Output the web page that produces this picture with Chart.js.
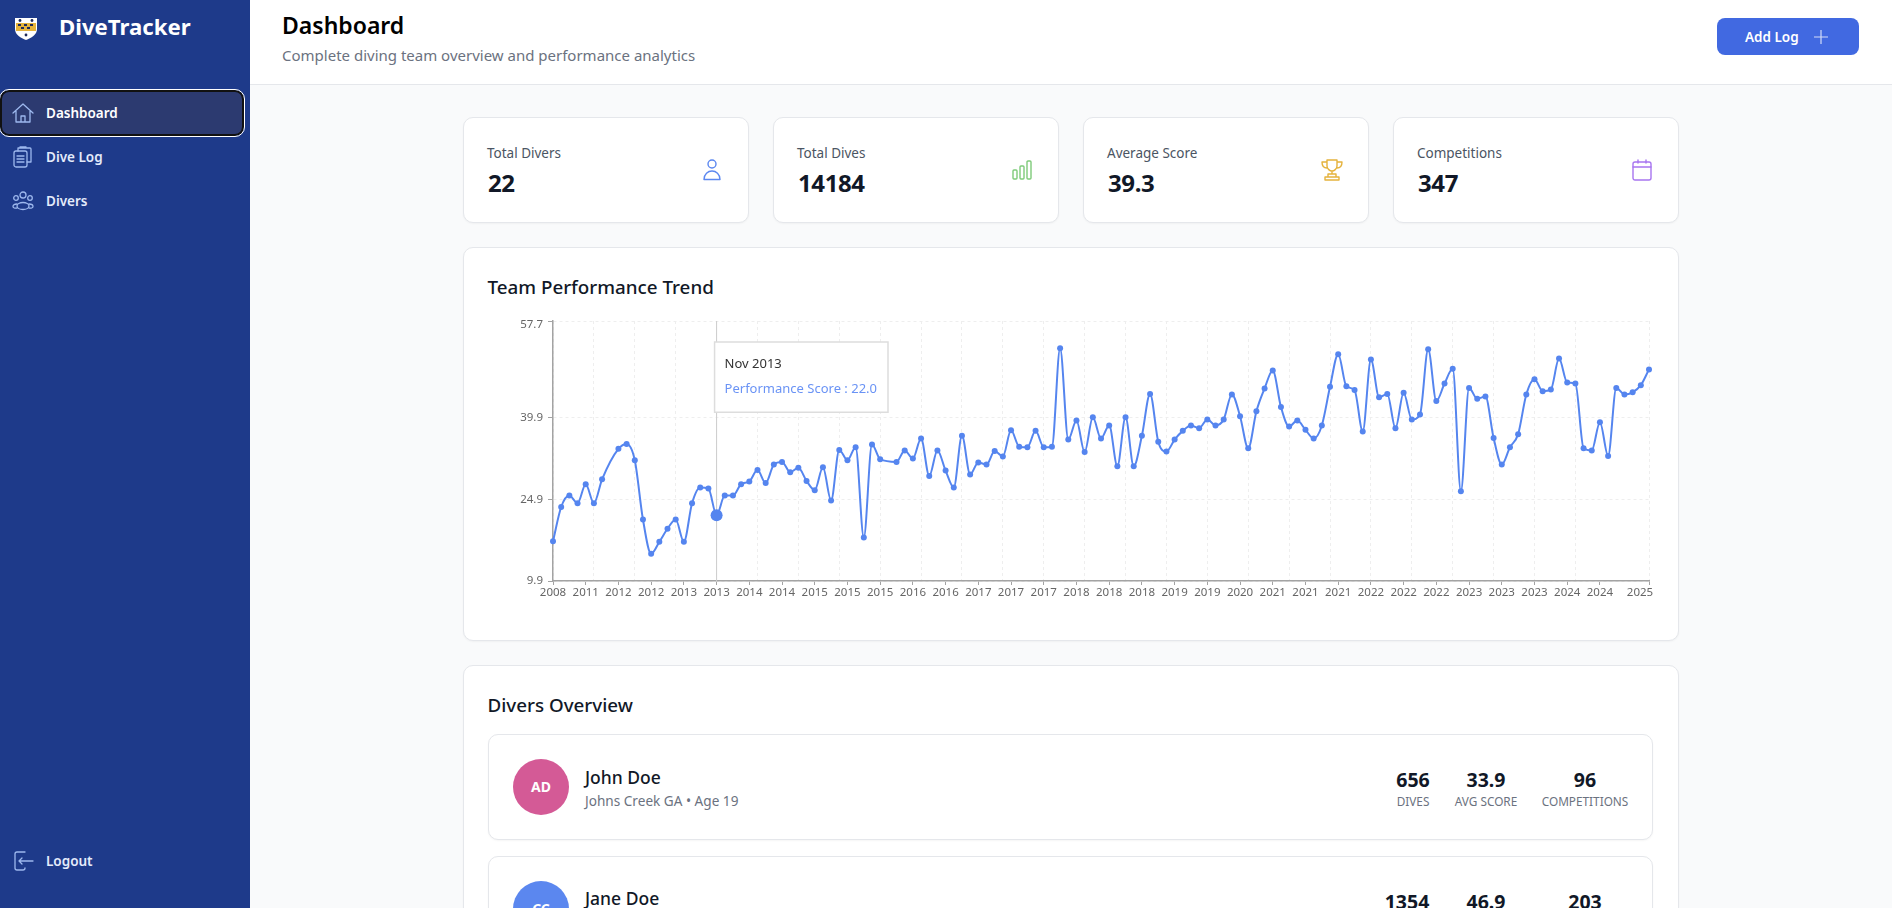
<!DOCTYPE html>
<html>
<head>
<meta charset="utf-8">
<title>DiveTracker</title>
<script src="https://cdn.jsdelivr.net/npm/chart.js@4"></script>
<style>
  html, body { margin: 0; padding: 0; width: 1892px; height: 908px; overflow: hidden; background: #f9fafb; font-family: "Noto Sans", sans-serif; }
  .t { position: absolute; white-space: nowrap; line-height: 20px; }
  .c { transform: translateX(-50%); }
  .box { position: absolute; box-sizing: border-box; background: #fff; border: 1px solid #e5e7eb; border-radius: 10px; box-shadow: 0 1px 2px rgba(0,0,0,.04); }
  svg { position: absolute; fill: none; stroke-linecap: round; stroke-linejoin: round; }
  #sidebar { position: absolute; left: 0; top: 0; width: 250px; height: 908px; background: #1e3a8a; }
  #header { position: absolute; left: 250px; top: 0; width: 1642px; height: 85px; box-sizing: border-box; background: #fff; border-bottom: 1px solid #e5e7eb; }
  .nav { font-size: 13.5px; font-weight: 600; color: #e4ebfb; left: 46px; }
  .lbl { font-size: 13.5px; color: #4b5563; }
  .val { font-size: 24px; font-weight: 700; color: #111827; letter-spacing: -.4px; }
  .name { font-size: 17.5px; font-weight: 500; color: #111827; }
  .sub { font-size: 13.6px; color: #6b7280; }
  .num { font-size: 19.5px; font-weight: 700; color: #111827; }
  .cap { font-size: 11.8px; color: #6b7280; }
  .head { font-size: 18.8px; font-weight: 500; color: #111827; }
  #chartWrap { position: absolute; left: 488px; top: 310px; width: 1190px; height: 310px; }
</style>
</head>
<body>
<div id="sidebar">
  <svg style="left:14px;top:13px" width="24" height="28" viewBox="0 0 24 28">
    <path d="M1 5 H23 V16 C23 22 17 25 12 27 C7 25 1 22 1 16 Z" fill="#fff"/>
    <rect x="2" y="10" width="20" height="8" fill="#e6b33a"/>
    <path d="M4 11h3v2H4zM10 11h3v2h-3zM16 11h3v2h-3zM7 14h3v2H7zM13 14h3v2h-3z" fill="#1f2a5a"/>
    <circle cx="6" cy="7.5" r="1.4" fill="#1f2a5a"/><circle cx="18" cy="7.5" r="1.4" fill="#1f2a5a"/><circle cx="12" cy="22" r="1.4" fill="#1f2a5a"/>
  </svg>
  <div class="t" style="left:59px;top:17px;font-size:22.2px;font-weight:700;color:#fff">DiveTracker</div>
  <div style="position:absolute;left:0;top:90px;width:244px;height:46px;box-sizing:border-box;background:#2c3a70;border:2px solid #111;border-radius:9px;outline:1.5px solid #fff"></div>
  <svg style="left:12px;top:102px" width="22" height="22" viewBox="0 0 22 22" stroke="#9db8ee" stroke-width="1.3"><path d="M1 11 L11 2 L21 11 M4 9 V20 H18 V9 M9 20 V14 H13 V20"/></svg>
  <div class="t nav" style="top:103px;color:#fff">Dashboard</div>
  <svg style="left:13px;top:146px" width="20" height="22" viewBox="0 0 20 22" stroke="#9db8ee" stroke-width="1.3"><rect x="1" y="5" width="13" height="16" rx="2"/><path d="M5 5 V2 H17 a1 1 0 0 1 1 1 V16 H14 M7 1 h6 M4 10 h7 M4 13 h7 M4 16 h7"/></svg>
  <div class="t nav" style="top:147px">Dive Log</div>
  <svg style="left:12px;top:191px" width="22" height="20" viewBox="0 0 22 20" stroke="#9db8ee" stroke-width="1.3"><circle cx="11" cy="4" r="3"/><circle cx="4" cy="7" r="2.3"/><circle cx="18" cy="7" r="2.3"/><ellipse cx="11" cy="15" rx="6" ry="3.5"/><path d="M5 13 C2 13 1 14 1 15.5 C1 17 3 17.5 5 17 M17 13 C20 13 21 14 21 15.5 C21 17 19 17.5 17 17"/></svg>
  <div class="t nav" style="top:191px">Divers</div>
  <svg style="left:14px;top:851px" width="20" height="20" viewBox="0 0 20 20" stroke="#9db8ee" stroke-width="1.3"><path d="M11 1 H3 a2 2 0 0 0 -2 2 V17 a2 2 0 0 0 2 2 H9 a2 2 0 0 0 2 -2 M19 10 H5 M8 7 L5 10 L8 13"/></svg>
  <div class="t nav" style="top:851px">Logout</div>
</div>

<div id="header"></div>
<div class="t" style="left:282px;top:15px;font-size:23px;font-weight:600;color:#000">Dashboard</div>
<div class="t" style="left:282px;top:45px;font-size:15px;color:#6b7280">Complete diving team overview and performance analytics</div>
<div style="position:absolute;left:1717px;top:18px;width:142px;height:37px;background:#4169e1;border-radius:8px"></div>
<div class="t" style="left:1745px;top:27px;font-size:13.5px;font-weight:600;color:#fff">Add Log</div>
<svg style="left:1814px;top:30px" width="14" height="14" viewBox="0 0 14 14" stroke="#d3dcf8" stroke-width="1.2"><path d="M7 0 V14 M0 7 H14"/></svg>

<div class="box" style="left:463px;top:117px;width:286px;height:106px"></div>
<div class="t lbl" style="left:487px;top:143px">Total Divers</div>
<div class="t val" style="left:488px;top:173px">22</div>
<svg style="left:703px;top:159px" width="18" height="22" viewBox="0 0 18 22" stroke="#5b87f0" stroke-width="1.4"><circle cx="9" cy="5" r="4"/><path d="M1 20.5 C1 15 5 12 9 12 C13 12 17 15 17 20.5 Z"/></svg>
<div class="box" style="left:773px;top:117px;width:286px;height:106px"></div>
<div class="t lbl" style="left:797px;top:143px">Total Dives</div>
<div class="t val" style="left:798px;top:173px">14184</div>
<svg style="left:1012px;top:159px" width="20" height="22" viewBox="0 0 20 22" stroke="#7fcb7a" stroke-width="1.4"><rect x="1" y="11" width="4" height="9" rx="1"/><rect x="8" y="7" width="4" height="13" rx="1"/><rect x="15" y="2" width="4" height="18" rx="1"/></svg>
<div class="box" style="left:1083px;top:117px;width:286px;height:106px"></div>
<div class="t lbl" style="left:1107px;top:143px">Average Score</div>
<div class="t val" style="left:1108px;top:173px">39.3</div>
<svg style="left:1321px;top:159px" width="22" height="22" viewBox="0 0 22 22" stroke="#e5b33d" stroke-width="1.4"><path d="M6 1 H16 V7 C16 10 13 12 11 12 C9 12 6 10 6 7 Z M6 3 H1 C1 7 3 9 6 9 M16 3 H21 C21 7 19 9 16 9 M11 12 V15 M7 15 H15 V18 H7 Z M4 18 H18 V21 H4 Z"/></svg>
<div class="box" style="left:1393px;top:117px;width:286px;height:106px"></div>
<div class="t lbl" style="left:1417px;top:143px">Competitions</div>
<div class="t val" style="left:1418px;top:173px">347</div>
<svg style="left:1632px;top:159px" width="20" height="22" viewBox="0 0 20 22" stroke="#a876f0" stroke-width="1.4"><rect x="1" y="3" width="18" height="18" rx="2"/><path d="M1 8 H19 M6 1 V4 M14 1 V4"/></svg>

<div class="box" style="left:463px;top:247px;width:1216px;height:394px"></div>
<div class="t head" style="left:487.5px;top:277px">Team Performance Trend</div>
<div id="chartWrap"><canvas id="trend"></canvas></div>

<div class="box" style="left:463px;top:665px;width:1216px;height:320px"></div>
<div class="t head" style="left:487.5px;top:695px">Divers Overview</div>

<div class="box" style="left:488px;top:734px;width:1165px;height:106px"></div>
<div style="position:absolute;left:513px;top:759px;width:56px;height:56px;border-radius:50%;background:#d45a96;color:#fff;font-size:14px;font-weight:700;line-height:56px;text-align:center">AD</div>
<div class="t name" style="left:585px;top:767px">John Doe</div>
<div class="t sub" style="left:585px;top:791px">Johns Creek GA • Age 19</div>
<div class="t num c" style="left:1413px;top:770px">656</div>
<div class="t cap c" style="left:1413px;top:791px">DIVES</div>
<div class="t num c" style="left:1486px;top:770px">33.9</div>
<div class="t cap c" style="left:1486px;top:791px">AVG SCORE</div>
<div class="t num c" style="left:1585px;top:770px">96</div>
<div class="t cap c" style="left:1585px;top:791px">COMPETITIONS</div>

<div class="box" style="left:488px;top:856px;width:1165px;height:106px"></div>
<div style="position:absolute;left:513px;top:881px;width:56px;height:56px;border-radius:50%;background:#5b87ef;color:#fff;font-size:14px;font-weight:700;line-height:56px;text-align:center">CC</div>
<div class="t name" style="left:585px;top:888px">Jane Doe</div>
<div class="t num c" style="left:1407px;top:892px">1354</div>
<div class="t num c" style="left:1486px;top:892px">46.9</div>
<div class="t num c" style="left:1585px;top:892px">203</div>

<script>
// values, null = month with no dot on the line
const scores = [
  17.2, 23.5, 25.6, 24.2, 27.7, 24.2, 28.6, null, 34.2, 35.1,
  32.1, 21.2, 14.9, 17.1, 19.5, 21.2, 17.1, 24.2, 27.1, 26.9,
  22.0, 25.6, 25.6, 27.7, 28.2, 30.3, 27.9, 31.3, 31.8, 29.9,
  30.7, 28.3, 26.6, 30.8, 24.7, 34.0, 32.1, 34.5, 17.9, 35.0,
  32.3, null, 31.8, 33.9, 32.4, 36.1, 29.2, 33.9, 30.2, 27.1,
  36.6, 29.5, 31.7, 31.3, 33.8, 32.8, 37.6, 34.6, 34.5, 37.5,
  34.5, 34.6, 52.7, 35.9, 39.4, 33.6, 40.0, 36.1, 38.5, 31.0,
  40.0, 31.0, 36.6, 44.3, 35.5, 33.7, 35.9, 37.5, 38.5, 38.0,
  39.6, 38.5, 39.6, 44.2, 40.2, 34.3, 41.1, 45.3, 48.6, 41.9,
  38.3, 39.4, 37.7, 36.1, 38.5, 45.6, 51.6, 45.7, 45.0, 37.4,
  50.6, 43.7, 44.3, 38.0, 44.5, 39.6, 40.5, 52.5, 43.0, 46.2,
  48.9, 26.4, 45.4, 43.4, 43.8, 36.2, 31.3, 34.5, 36.9, 44.2,
  47.0, 44.8, 45.1, 50.8, 46.4, 46.2, 34.3, 33.9, 39.1, 32.9,
  45.4, 44.2, 44.6, 45.9, 48.8
];
const categories = scores.map((_, i) => i);
const xTickLabels = ['2008', '2011', '2012', '2012', '2013', '2013', '2014', '2014', '2015', '2015', '2015',
  '2016', '2016', '2017', '2017', '2017', '2018', '2018', '2018', '2019', '2019', '2020', '2021', '2021', '2021',
  '2022', '2022', '2022', '2023', '2023', '2023', '2024', '2024', '2025'];
const yTickValues = [9.9, 24.9, 39.9, 57.7];
const tickStep = 4;
const gridStep = 5;
const lastIndex = scores.length - 1;
const hoverIndex = 20;
const hoverTitle = 'Nov 2013';
const seriesName = 'Performance Score';

const lineColor = '#5585ef';
const axisColor = '#a3a3a3';
const gridColor = '#eeeeee';
const fontFamily = '"Noto Sans", sans-serif';

// the regular ticks stop a few points short of the last one
const isRegular = (index, step) => index % step === 0 && index < lastIndex - 4;

Chart.Tooltip.positioners.besideCrosshair = function (elements) {
  if (!elements.length) return false;
  return { x: elements[0].element.x - 2, y: this.chart.chartArea.top + 21, xAlign: 'left', yAlign: 'top' };
};

const crosshair = {
  id: 'crosshair',
  beforeDatasetsDraw(chart) {
    const active = chart.getActiveElements();
    if (!active.length) return;
    const { ctx, chartArea } = chart;
    ctx.save();
    ctx.strokeStyle = '#cccccc';
    ctx.lineWidth = 1;
    ctx.beginPath();
    ctx.moveTo(active[0].element.x, chartArea.top);
    ctx.lineTo(active[0].element.x, chartArea.bottom);
    ctx.stroke();
    ctx.restore();
  }
};

const chart = new Chart(document.getElementById('trend'), {
  type: 'line',
  plugins: [crosshair],
  data: {
    labels: categories,
    datasets: [{
      label: seriesName,
      data: scores,
      borderColor: lineColor,
      backgroundColor: lineColor,
      borderWidth: 2,
      cubicInterpolationMode: 'monotone',
      spanGaps: true,
      pointRadius: 3,
      pointBorderWidth: 0,
      pointHoverRadius: 6,
      pointHoverBorderWidth: 0,
      pointHoverBackgroundColor: lineColor
    }]
  },
  options: {
    responsive: true,
    maintainAspectRatio: false,
    animation: false,
    layout: { padding: { top: 11, right: 29 } },
    plugins: {
      legend: { display: false },
      tooltip: {
        position: 'besideCrosshair',
        backgroundColor: '#ffffff',
        borderColor: '#dddddd',
        borderWidth: 1.5,
        cornerRadius: 0,
        caretSize: 0,
        caretPadding: 0,
        displayColors: false,
        padding: { top: 14, bottom: 15, left: 10, right: 11 },
        titleColor: '#333333',
        titleFont: { family: fontFamily, size: 13, weight: 'normal' },
        titleMarginBottom: 10,
        bodyColor: '#6a93f5',
        bodyFont: { family: fontFamily, size: 13 },
        callbacks: {
          title: () => hoverTitle,
          label: (item) => seriesName + ' : ' + item.parsed.y.toFixed(1)
        }
      }
    },
    scales: {
      x: {
        afterFit(scale) { scale.height = 39; },
        border: { color: axisColor, width: 1.5, dash: [3, 3] },
        grid: {
          color: (ctx) => isRegular(ctx.index, gridStep) || ctx.index === lastIndex ? gridColor : 'transparent',
          tickColor: (ctx) => isRegular(ctx.index, tickStep) || ctx.index === lastIndex ? axisColor : 'transparent',
          tickLength: 4
        },
        ticks: {
          autoSkip: false,
          maxRotation: 0,
          minRotation: 0,
          padding: 1,
          color: '#666666',
          font: { family: fontFamily, size: 11.5 },
          callback(value, index) {
            if (index === lastIndex) return xTickLabels[xTickLabels.length - 1] + '      ';
            return isRegular(index, tickStep) ? xTickLabels[index / tickStep] : '';
          }
        }
      },
      y: {
        min: yTickValues[0],
        max: yTickValues[yTickValues.length - 1],
        afterFit(scale) { scale.width = 65; scale.paddingTop = 0; },
        afterBuildTicks(scale) { scale.ticks = yTickValues.map((value) => ({ value })); },
        border: { color: axisColor, width: 1.5, dash: [3, 3] },
        grid: { color: gridColor, tickColor: axisColor, tickLength: 5 },
        ticks: {
          padding: 5,
          color: '#666666',
          // top label sits a little under its tick, an empty first line pushes it down
          font: (ctx) => ({ family: fontFamily, size: 11.5, lineHeight: ctx.index === yTickValues.length - 1 ? '8px' : 1.2 }),
          callback: (value, index) => index === yTickValues.length - 1 ? ['', value.toFixed(1)] : value.toFixed(1)
        }
      }
    }
  }
});

const active = [{ datasetIndex: 0, index: hoverIndex }];
chart.setActiveElements(active);
chart.tooltip.setActiveElements(active, { x: 0, y: 0 });
chart.render();
</script>
</body>
</html>
